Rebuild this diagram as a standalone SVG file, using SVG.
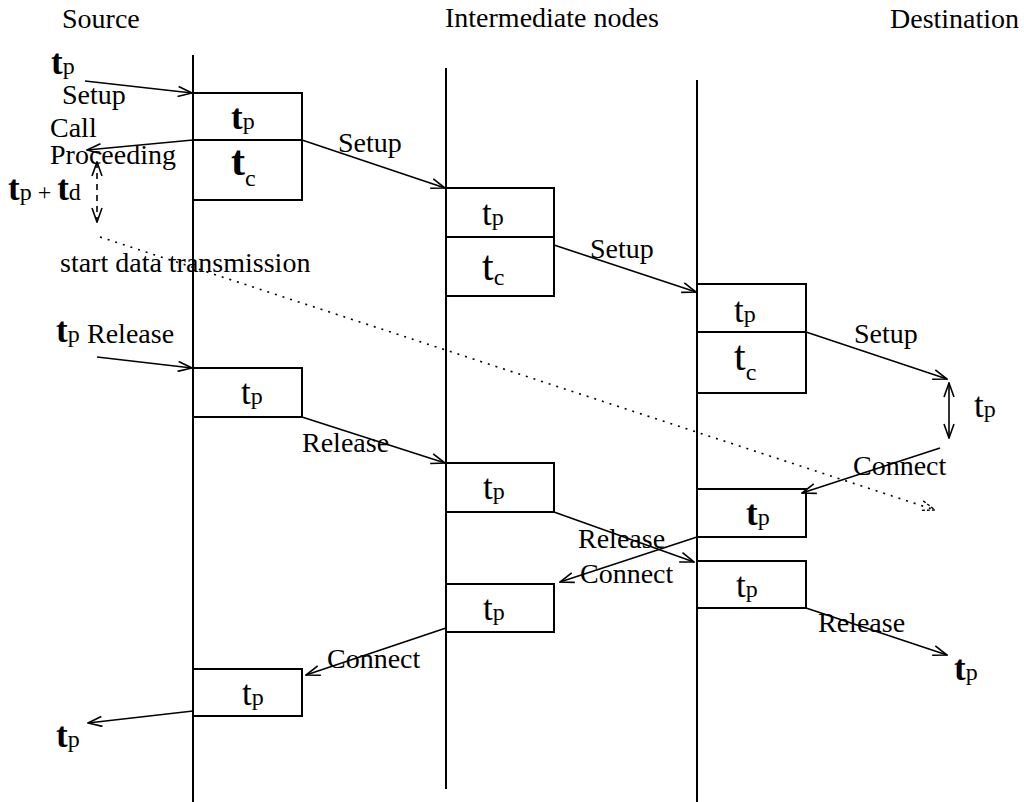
<svg xmlns="http://www.w3.org/2000/svg" width="1024" height="802" viewBox="0 0 1024 802">
  <defs>
    <style>
      .lbl { font-family: "Liberation Serif", "Times New Roman", serif; font-size: 28px; fill: #000; }
      .tt { font-family: "Liberation Serif", "Times New Roman", serif; font-size: 35px; fill: #000; }
      .tb { font-weight: bold; }
      .sub { font-size: 24px; font-weight: normal; }
      .tcbig { font-size: 42px; }
      .life { stroke: #000; stroke-width: 2; fill: none; }
      .box { stroke: #000; stroke-width: 2; fill: #fff; }
      .msg { stroke: #000; stroke-width: 1.6; fill: none; marker-end: url(#open); }
      .dash { stroke: #000; stroke-width: 1.6; fill: none; stroke-dasharray: 6 5; marker-start: url(#open); marker-end: url(#open); }
      .dots { stroke: #000; stroke-width: 1.6; fill: none; stroke-dasharray: 2 6; marker-end: url(#openDot); }
      .dbl { stroke: #000; stroke-width: 1.6; fill: none; marker-start: url(#open); marker-end: url(#open); }
    </style>
    <marker id="open" viewBox="0 0 16 12" refX="15" refY="6" markerWidth="16" markerHeight="12" markerUnits="userSpaceOnUse" orient="auto-start-reverse">
      <path d="M1,1 L15,6 L1,11" fill="none" stroke="#000" stroke-width="1.6"/>
    </marker>
    <marker id="openDot" viewBox="0 0 16 12" refX="15" refY="6" markerWidth="16" markerHeight="12" markerUnits="userSpaceOnUse" orient="auto">
      <path d="M1,1 L15,6 L1,11" fill="none" stroke="#000" stroke-width="1.4" stroke-dasharray="3 2"/>
    </marker>
  </defs>

  <rect width="1024" height="802" fill="#fff"/>

  <!-- column headings -->
  <g id="headings">
    <text class="lbl" x="62" y="28">Source</text>
    <text class="lbl" x="445" y="27">Intermediate nodes</text>
    <text class="lbl" x="890" y="28">Destination</text>
  </g>

  <!-- lifelines -->
  <g id="lifelines">
    <line class="life" x1="193" y1="55" x2="193" y2="802"/>
    <line class="life" x1="446" y1="68" x2="446" y2="789"/>
    <line class="life" x1="697" y1="80" x2="697" y2="802"/>
  </g>

  <!-- processing boxes: source -->
  <g id="src-setup">
    <rect class="box" x="193" y="93" width="109" height="107"/>
    <line class="life" x1="193" y1="140" x2="302" y2="140"/>
    <text class="tt" x="231" y="129"><tspan class="tb">t</tspan><tspan class="sub">p</tspan></text>
    <text class="tt" x="231" y="175"><tspan class="tb tcbig">t</tspan><tspan class="sub" dy="11">c</tspan></text>
  </g>
  <g id="src-release">
    <rect class="box" x="193" y="368" width="109" height="49"/>
    <text class="tt" x="241" y="404">t<tspan class="sub">p</tspan></text>
  </g>
  <g id="src-connect">
    <rect class="box" x="193" y="669" width="109" height="47"/>
    <text class="tt" x="242" y="705">t<tspan class="sub">p</tspan></text>
  </g>

  <!-- processing boxes: intermediate -->
  <g id="mid-setup">
    <rect class="box" x="446" y="188" width="108" height="108"/>
    <line class="life" x1="446" y1="237" x2="554" y2="237"/>
    <text class="tt" x="482" y="225">t<tspan class="sub">p</tspan></text>
    <text class="tt" x="482" y="280"><tspan class="tcbig">t</tspan><tspan class="sub" dy="5">c</tspan></text>
  </g>
  <g id="mid-release">
    <rect class="box" x="446" y="463" width="108" height="49"/>
    <text class="tt" x="483" y="499">t<tspan class="sub">p</tspan></text>
  </g>
  <g id="mid-connect">
    <rect class="box" x="446" y="584" width="108" height="48"/>
    <text class="tt" x="483" y="620">t<tspan class="sub">p</tspan></text>
  </g>

  <!-- processing boxes: destination -->
  <g id="dst-setup">
    <rect class="box" x="697" y="284" width="109" height="109"/>
    <line class="life" x1="697" y1="332" x2="806" y2="332"/>
    <text class="tt" x="734" y="322">t<tspan class="sub">p</tspan></text>
    <text class="tt" x="734" y="370"><tspan class="tcbig">t</tspan><tspan class="sub" dy="10">c</tspan></text>
  </g>
  <g id="dst-connect">
    <rect class="box" x="697" y="489" width="109" height="48"/>
    <text class="tt" x="746" y="525"><tspan class="tb">t</tspan><tspan class="sub">p</tspan></text>
  </g>
  <g id="dst-release">
    <rect class="box" x="697" y="561" width="109" height="47"/>
    <text class="tt" x="736" y="597">t<tspan class="sub">p</tspan></text>
  </g>

  <!-- messages -->
  <g id="connectors">
    <!-- setup chain -->
    <line class="msg" x1="85" y1="81" x2="192" y2="93"/>
    <line class="msg" x1="302" y1="140" x2="445" y2="188"/>
    <line class="msg" x1="554" y1="245" x2="696" y2="292"/>
    <line class="msg" x1="806" y1="332" x2="947" y2="379"/>
    <!-- call proceeding -->
    <line class="msg" x1="193" y1="140" x2="87" y2="150"/>
    <line class="dash" x1="97" y1="162" x2="97" y2="222"/>
    <!-- data transmission -->
    <line class="dots" x1="100" y1="237" x2="935" y2="510"/>
    <!-- destination processing -->
    <line class="dbl" x1="949" y1="383" x2="949" y2="438"/>
    <!-- connect chain -->
    <line class="msg" x1="940" y1="448" x2="802" y2="493"/>
    <line class="msg" x1="697" y1="537" x2="560" y2="582"/>
    <line class="msg" x1="446" y1="628" x2="306" y2="675"/>
    <line class="msg" x1="193" y1="711" x2="88" y2="723"/>
    <!-- release chain -->
    <line class="msg" x1="97" y1="357" x2="192" y2="368"/>
    <line class="msg" x1="302" y1="417" x2="445" y2="463"/>
    <line class="msg" x1="554" y1="512" x2="694" y2="562"/>
    <line class="msg" x1="806" y1="608" x2="947" y2="655"/>
  </g>

  <!-- message labels -->
  <g id="labels">
    <text class="lbl" x="62" y="104">Setup</text>
    <text class="lbl" x="50" y="137">Call</text>
    <text class="lbl" x="50" y="164">Proceeding</text>
    <text class="lbl" x="60" y="272">start data transmission</text>
    <text class="lbl" x="338" y="152">Setup</text>
    <text class="lbl" x="590" y="258">Setup</text>
    <text class="lbl" x="854" y="343">Setup</text>
    <text class="lbl" x="853" y="475">Connect</text>
    <text class="lbl" x="87" y="343">Release</text>
    <text class="lbl" x="302" y="452">Release</text>
    <text class="lbl" x="578" y="548">Release</text>
    <text class="lbl" x="580" y="583">Connect</text>
    <text class="lbl" x="818" y="632">Release</text>
    <text class="lbl" x="327" y="668">Connect</text>
  </g>

  <!-- time annotations -->
  <g id="times">
    <text class="tt" x="51" y="74"><tspan class="tb">t</tspan><tspan class="sub">p</tspan></text>
    <text class="tt" x="8" y="200"><tspan class="tb">t</tspan><tspan class="sub">p + </tspan><tspan class="tb">t</tspan><tspan class="sub">d</tspan></text>
    <text class="tt" x="56" y="342"><tspan class="tb">t</tspan><tspan class="sub">p</tspan></text>
    <text class="tt" x="974" y="417">t<tspan class="sub">p</tspan></text>
    <text class="tt" x="954" y="680"><tspan class="tb">t</tspan><tspan class="sub">p</tspan></text>
    <text class="tt" x="56" y="747"><tspan class="tb">t</tspan><tspan class="sub">p</tspan></text>
  </g>
</svg>
